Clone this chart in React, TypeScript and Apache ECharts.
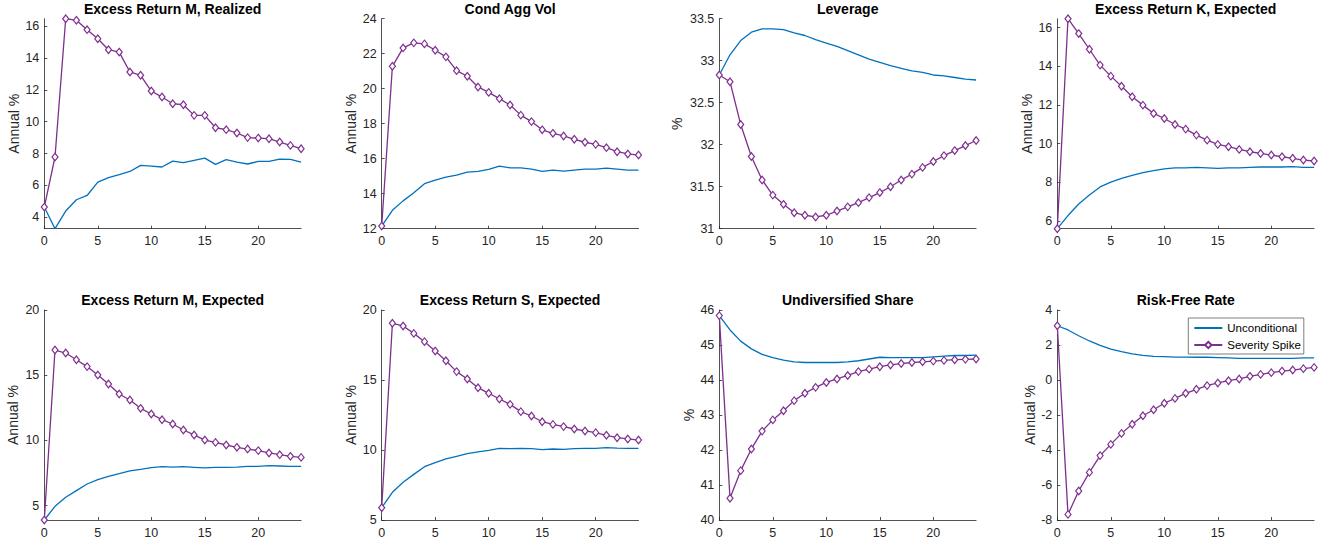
import { useEffect, useRef } from "react";
import * as echarts from "echarts";

// Horizon (periods after the shock)
const horizon = [0, 1, 2, 3, 4, 5, 6, 7, 8, 9, 10, 11, 12, 13, 14, 15, 16, 17, 18, 19, 20, 21, 22, 23, 24];
const xTicks = [0, 5, 10, 15, 20];

// Excess Return M, Realized
const erMRealUncond = [4.63, 3.27, 4.38, 5.09, 5.36, 6.2, 6.48, 6.67, 6.87, 7.25, 7.21, 7.15, 7.52, 7.42, 7.57, 7.71, 7.32, 7.61, 7.46, 7.34, 7.5, 7.5, 7.65, 7.63, 7.46];
const erMRealSpike = [4.63, 7.78, 16.48, 16.38, 15.79, 15.22, 14.53, 14.38, 13.13, 12.92, 11.93, 11.55, 11.13, 11.07, 10.4, 10.4, 9.62, 9.5, 9.29, 9.0, 8.97, 8.93, 8.72, 8.51, 8.3];
const erMRealTicks = [4, 6, 8, 10, 12, 14, 16];

// Cond Agg Vol
const volUncond = [12.15, 13.05, 13.59, 14.05, 14.57, 14.78, 14.95, 15.06, 15.23, 15.27, 15.39, 15.58, 15.48, 15.48, 15.41, 15.27, 15.35, 15.29, 15.35, 15.41, 15.41, 15.46, 15.41, 15.35, 15.35];
const volSpike = [12.15, 21.28, 22.33, 22.62, 22.56, 22.2, 21.82, 21.03, 20.71, 20.1, 19.79, 19.43, 19.07, 18.49, 18.12, 17.65, 17.45, 17.3, 17.11, 16.94, 16.82, 16.63, 16.4, 16.27, 16.21];
const volTicks = [12, 14, 16, 18, 20, 22, 24];

// Leverage
const levUncond = [32.83, 33.07, 33.24, 33.34, 33.38, 33.38, 33.37, 33.33, 33.3, 33.25, 33.21, 33.17, 33.12, 33.07, 33.02, 32.98, 32.94, 32.91, 32.88, 32.86, 32.83, 32.82, 32.8, 32.78, 32.77];
const levSpike = [32.83, 32.75, 32.24, 31.86, 31.58, 31.4, 31.29, 31.19, 31.16, 31.14, 31.16, 31.21, 31.26, 31.31, 31.37, 31.43, 31.5, 31.58, 31.65, 31.73, 31.8, 31.87, 31.93, 31.99, 32.05];
const levTicks = [31, 31.5, 32, 32.5, 33, 33.5];

// Excess Return K, Expected
const erKUncond = [5.6, 6.28, 6.88, 7.34, 7.76, 8.01, 8.2, 8.36, 8.5, 8.6, 8.69, 8.75, 8.75, 8.77, 8.75, 8.72, 8.75, 8.75, 8.77, 8.79, 8.79, 8.79, 8.81, 8.77, 8.77];
const erKSpike = [5.6, 16.46, 15.69, 14.88, 14.06, 13.49, 12.97, 12.42, 11.99, 11.56, 11.3, 10.99, 10.75, 10.44, 10.18, 9.96, 9.84, 9.7, 9.58, 9.49, 9.41, 9.32, 9.24, 9.15, 9.1];
const erKTicks = [6, 8, 10, 12, 14, 16];

// Excess Return M, Expected
const erMExpUncond = [3.9, 4.95, 5.64, 6.15, 6.66, 6.99, 7.25, 7.45, 7.66, 7.78, 7.91, 7.99, 7.96, 7.99, 7.94, 7.89, 7.94, 7.94, 7.96, 8.01, 8.01, 8.07, 8.04, 8.01, 8.01];
const erMExpSpike = [3.9, 16.93, 16.7, 16.19, 15.66, 15.02, 14.33, 13.56, 13.1, 12.46, 12.03, 11.59, 11.26, 10.8, 10.42, 10.03, 9.85, 9.65, 9.47, 9.34, 9.22, 9.04, 8.91, 8.78, 8.7];
const erMExpTicks = [5, 10, 15, 20];

// Excess Return S, Expected
const erSUncond = [5.88, 6.98, 7.69, 8.26, 8.81, 9.1, 9.36, 9.55, 9.74, 9.86, 9.98, 10.12, 10.1, 10.12, 10.1, 10.02, 10.07, 10.05, 10.1, 10.12, 10.12, 10.17, 10.14, 10.12, 10.12];
const erSSpike = [5.88, 19.05, 18.86, 18.33, 17.74, 17.07, 16.38, 15.6, 15.07, 14.45, 14.05, 13.64, 13.26, 12.74, 12.43, 12.02, 11.83, 11.67, 11.5, 11.36, 11.24, 11.05, 10.88, 10.79, 10.71];
const erSTicks = [5, 10, 15, 20];

// Undiversified Share
const undivUncond = [45.84, 45.43, 45.11, 44.89, 44.73, 44.64, 44.57, 44.52, 44.5, 44.5, 44.5, 44.5, 44.52, 44.55, 44.6, 44.65, 44.64, 44.64, 44.64, 44.64, 44.66, 44.68, 44.7, 44.7, 44.71];
const undivSpike = [45.84, 40.62, 41.41, 42.03, 42.54, 42.86, 43.12, 43.41, 43.62, 43.79, 43.93, 44.03, 44.13, 44.24, 44.31, 44.38, 44.43, 44.47, 44.5, 44.52, 44.54, 44.56, 44.58, 44.59, 44.6];
const undivTicks = [40, 41, 42, 43, 44, 45, 46];

// Risk-Free Rate
const rfUncond = [3.1, 2.86, 2.53, 2.23, 1.98, 1.77, 1.62, 1.49, 1.41, 1.35, 1.33, 1.31, 1.31, 1.3, 1.3, 1.28, 1.26, 1.24, 1.24, 1.24, 1.24, 1.24, 1.24, 1.26, 1.26];
const rfSpike = [3.1, -7.68, -6.34, -5.28, -4.32, -3.68, -3.05, -2.53, -2.04, -1.7, -1.33, -1.05, -0.76, -0.53, -0.32, -0.17, -0.04, 0.06, 0.21, 0.32, 0.42, 0.51, 0.57, 0.65, 0.72];
const rfTicks = [-8, -6, -4, -2, 0, 2, 4];

const titles = [
  "Excess Return M, Realized",
  "Cond Agg Vol",
  "Leverage",
  "Excess Return K, Expected",
  "Excess Return M, Expected",
  "Excess Return S, Expected",
  "Undiversified Share",
  "Risk-Free Rate",
];
const yNames = ["Annual %", "Annual %", "%", "Annual %", "Annual %", "Annual %", "%", "Annual %"];

const tight = (a: number[], b: number[]) => Math.min(...a, ...b);
const tightMax = (a: number[], b: number[]) => Math.max(...a, ...b);

const panels = [
  { u: erMRealUncond, s: erMRealSpike, ticks: erMRealTicks, min: tight(erMRealUncond, erMRealSpike), max: tightMax(erMRealUncond, erMRealSpike) },
  { u: volUncond, s: volSpike, ticks: volTicks, min: 12, max: 24 },
  { u: levUncond, s: levSpike, ticks: levTicks, min: 31, max: 33.5 },
  { u: erKUncond, s: erKSpike, ticks: erKTicks, min: tight(erKUncond, erKSpike), max: tightMax(erKUncond, erKSpike) },
  { u: erMExpUncond, s: erMExpSpike, ticks: erMExpTicks, min: tight(erMExpUncond, erMExpSpike), max: 20 },
  { u: erSUncond, s: erSSpike, ticks: erSTicks, min: 5, max: 20 },
  { u: undivUncond, s: undivSpike, ticks: undivTicks, min: 40, max: 46 },
  { u: rfUncond, s: rfSpike, ticks: rfTicks, min: -8, max: 4 },
];

// Layout
const colLeft = [44.3, 381.7, 719.3, 1057.3];
const plotW = 256.8;
const rowTop = [18.7, 310];
const plotH = 210;
const titleY = [8.5, 299.5];
const nameGaps = [23, 23.5, 35, 23.5, 24.5, 23.5, 23.5, 20.5];

const BLUE = "#0072BD";
const PURPLE = "#7E2F8E";
const AXIS = "#262626";
const FONT = "'Liberation Sans', Arial, Helvetica, sans-serif";

export default function App() {
  const ref = useRef<HTMLDivElement>(null);

  useEffect(() => {
    if (!ref.current) return;
    const chart = echarts.init(ref.current, undefined, { renderer: "svg" });

    const grids = panels.map((_, i) => ({
      left: colLeft[i % 4],
      top: rowTop[Math.floor(i / 4)],
      width: plotW,
      height: plotH,
      containLabel: false,
    }));

    const xAxes = panels.map((_, i) => ({
      type: "value",
      gridIndex: i,
      min: 0,
      max: 24,
      axisLine: { show: true, onZero: false, lineStyle: { color: AXIS, width: 0.8 } },
      axisTick: { show: true, inside: true, length: 3, customValues: xTicks, lineStyle: { color: AXIS, width: 0.8 } },
      axisLabel: { customValues: xTicks, margin: 6, fontSize: 12.5, color: AXIS, fontFamily: FONT },
      splitLine: { show: false },
    }));

    const yAxes = panels.map((p, i) => ({
      type: "value",
      gridIndex: i,
      min: p.min,
      max: p.max,
      name: yNames[i],
      nameLocation: "middle",
      nameGap: nameGaps[i],
      nameTextStyle: { fontSize: 14, color: AXIS, fontFamily: FONT },
      axisLine: { show: true, onZero: false, lineStyle: { color: AXIS, width: 0.8 } },
      axisTick: { show: true, inside: true, length: 3, customValues: p.ticks, lineStyle: { color: AXIS, width: 0.8 } },
      axisLabel: { customValues: p.ticks, margin: 5, fontSize: 12.5, color: AXIS, fontFamily: FONT },
      splitLine: { show: false },
    }));

    const series: any[] = [];
    panels.forEach((p, i) => {
      series.push({
        type: "line",
        name: "Unconditional",
        xAxisIndex: i,
        yAxisIndex: i,
        data: horizon.map((t, k) => [t, p.u[k]]),
        symbol: "none",
        color: BLUE,
        lineStyle: { color: BLUE, width: 1.3 },
        clip: false,
        silent: true,
        emphasis: { disabled: true },
        z: 2,
      });
      series.push({
        type: "line",
        name: "Severity Spike",
        xAxisIndex: i,
        yAxisIndex: i,
        data: horizon.map((t, k) => [t, p.s[k]]),
        symbol: "diamond",
        symbolSize: [6, 7.5],
        showSymbol: true,
        showAllSymbol: true,
        color: PURPLE,
        itemStyle: { color: "#ffffff", borderColor: PURPLE, borderWidth: 1.2 },
        lineStyle: { color: PURPLE, width: 1.3 },
        clip: false,
        silent: true,
        emphasis: { disabled: true },
        z: 3,
      });
    });

    const titleGraphics = titles.map((t, i) => ({
      type: "text",
      x: colLeft[i % 4] + plotW / 2,
      y: titleY[Math.floor(i / 4)],
      silent: true,
      style: {
        text: t,
        fontSize: 14,
        fontWeight: "bold",
        fontFamily: FONT,
        fill: "#000",
        align: "center",
        verticalAlign: "middle",
      },
    }));

    chart.setOption({
      animation: false,
      backgroundColor: "#ffffff",
      grid: grids,
      xAxis: xAxes,
      yAxis: yAxes,
      series,
      graphic: titleGraphics,
      legend: {
        data: [
          { name: "Unconditional", itemStyle: { opacity: 0 } },
          { name: "Severity Spike" },
        ],
        orient: "vertical",
        left: 1188.3,
        top: 318,
        padding: [4, 3, 3, 5],
        itemWidth: 28,
        itemHeight: 8,
        itemGap: 5,
        backgroundColor: "#ffffff",
        borderColor: AXIS,
        borderWidth: 0.6,
        borderRadius: 0,
        selectedMode: false,
        textStyle: { fontSize: 11.5, color: "#000", fontFamily: FONT },
      },
    });

    return () => chart.dispose();
  }, []);

  return (
    <div
      ref={ref}
      style={{ position: "fixed", left: 0, top: 0, width: 1327, height: 546, background: "#fff" }}
    />
  );
}
